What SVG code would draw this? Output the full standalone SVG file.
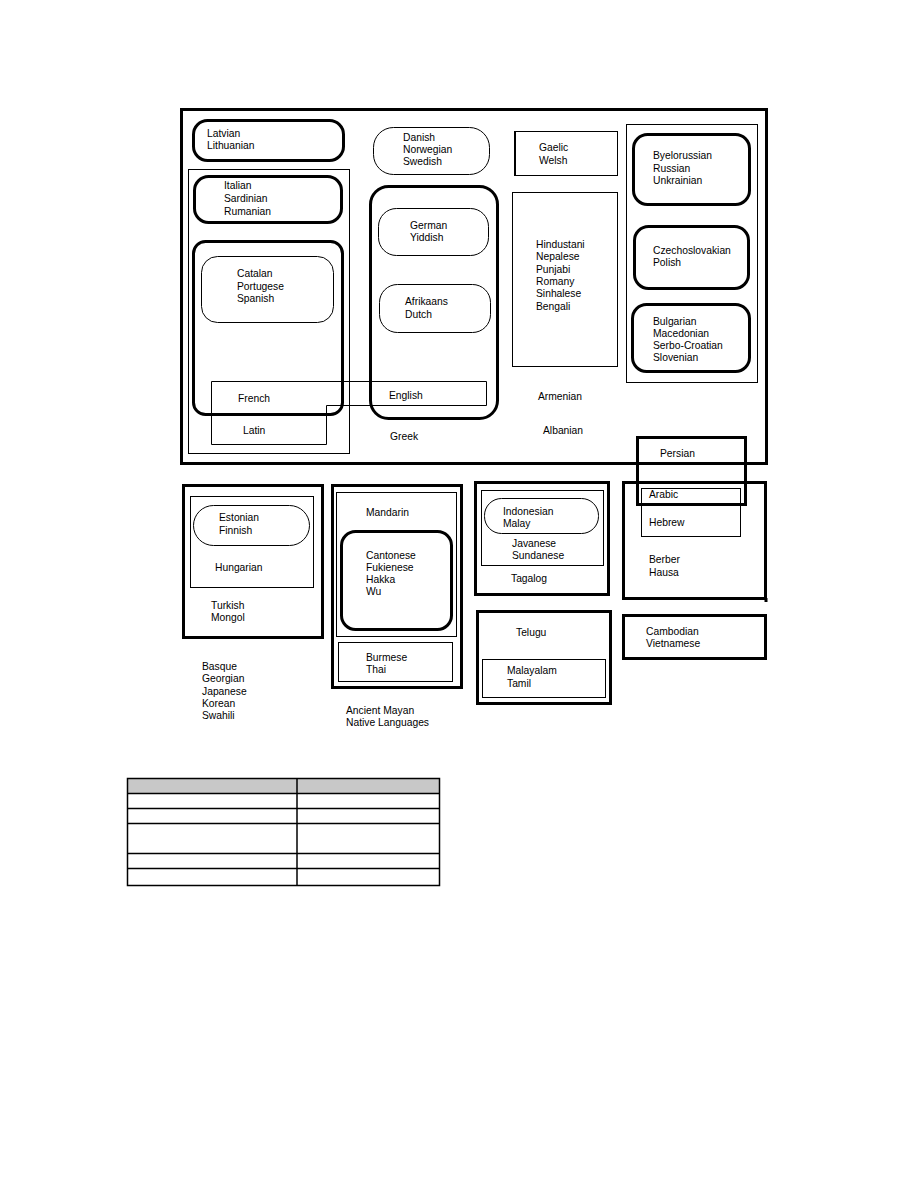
<svg xmlns="http://www.w3.org/2000/svg" width="918" height="1188" viewBox="0 0 918 1188">
<style>
.k{fill:none;stroke:#000;stroke-width:3}
.t{fill:none;stroke:#000;stroke-width:1}
text{font-family:"Liberation Sans",Arial,sans-serif;font-size:10.3px;fill:#000}
.hd{fill:#c8c8c8;stroke:none}
.tl{stroke:#000;stroke-width:1.5;fill:none}
</style>
<rect width="918" height="1188" fill="#fff"/>

<g id="indo-european">
<rect class="k" x="181.5" y="109.5" width="585" height="354"/>
</g>

<g id="baltic">
<rect class="k" x="193.5" y="120.5" width="150" height="40" rx="14"/>
<text x="207" y="137">Latvian</text><text x="207" y="149">Lithuanian</text>
</g>

<g id="romance">
<rect class="t" x="188.5" y="169.5" width="161" height="284"/>
</g>

<g id="italian">
<rect class="k" x="194.5" y="176.5" width="147" height="46" rx="14"/>
<text x="224" y="189">Italian</text><text x="224" y="202">Sardinian</text><text x="224" y="215">Rumanian</text>
</g>

<g id="ibero-french">
<rect class="k" x="193.5" y="241.5" width="149" height="173" rx="12"/>
</g>

<g id="iberian">
<rect class="t" x="201.5" y="256.5" width="132" height="66" rx="16"/>
<text x="237" y="277">Catalan</text><text x="237" y="290">Portugese</text><text x="237" y="302">Spanish</text>
</g>

<g id="danish">
<rect class="t" x="373.5" y="127.5" width="116" height="47" rx="20"/>
<text x="403" y="141">Danish</text><text x="403" y="153">Norwegian</text><text x="403" y="165">Swedish</text>
</g>

<g id="celtic">
<rect class="t" x="514.5" y="131.5" width="103" height="44"/>
<line x1="515" y1="131" x2="515" y2="176" stroke="#000" stroke-width="2"/>
<text x="539" y="151">Gaelic</text><text x="539" y="164">Welsh</text>
</g>

<g id="west-germanic">
<rect class="k" x="370.5" y="186.5" width="127" height="232" rx="18"/>
</g>

<g id="german">
<rect class="t" x="378.5" y="208.5" width="110" height="47" rx="18"/>
<text x="410" y="229">German</text><text x="410" y="241">Yiddish</text>
</g>

<g id="dutch">
<rect class="t" x="379.5" y="284.5" width="111" height="48" rx="18"/>
<text x="405" y="305">Afrikaans</text><text x="405" y="318">Dutch</text>
</g>

<g id="indic">
<rect class="t" x="512.5" y="192.5" width="105" height="174"/>
<text x="536" y="248">Hindustani</text><text x="536" y="260">Nepalese</text><text x="536" y="273">Punjabi</text><text x="536" y="285">Romany</text><text x="536" y="297">Sinhalese</text><text x="536" y="310">Bengali</text>
</g>

<g id="french-english-latin">
<path class="t" d="M211.5 381.5 H486.5 V405.5 H326.5 V444.5 H211.5 Z"/>
<text x="238" y="402">French</text>
<text x="389" y="399">English</text>
<text x="243" y="434">Latin</text>
</g>

<g id="greek"><text x="390" y="440">Greek</text></g>
<g id="armenian"><text x="538" y="400">Armenian</text></g>
<g id="albanian"><text x="543" y="434">Albanian</text></g>

<g id="slavic">
<rect class="t" x="626.5" y="124.5" width="131" height="258"/>
</g>
<g id="east-slavic">
<rect class="k" x="633.5" y="134.5" width="116" height="70" rx="14"/>
<text x="653" y="159">Byelorussian</text><text x="653" y="172">Russian</text><text x="653" y="184">Unkrainian</text>
</g>
<g id="west-slavic">
<rect class="k" x="634.5" y="226.5" width="114" height="62" rx="14"/>
<text x="653" y="254">Czechoslovakian</text><text x="653" y="266">Polish</text>
</g>
<g id="south-slavic">
<rect class="k" x="632.5" y="304.5" width="117" height="67" rx="14"/>
<text x="653" y="325">Bulgarian</text><text x="653" y="337">Macedonian</text><text x="653" y="349">Serbo-Croatian</text><text x="653" y="361">Slovenian</text>
</g>

<g id="persian">
<rect class="k" x="637.5" y="437.5" width="108" height="67"/>
<text x="660" y="457">Persian</text>
</g>

<g id="afro-asiatic">
<rect class="k" x="623.5" y="482.5" width="142" height="116"/>
<line x1="766" y1="598" x2="766" y2="602" stroke="#000" stroke-width="3"/>
<text x="649" y="563">Berber</text><text x="649" y="576">Hausa</text>
</g>
<g id="semitic">
<rect class="t" x="641.5" y="488.5" width="99" height="48"/>
<text x="649" y="498">Arabic</text><text x="649" y="526">Hebrew</text>
</g>

<g id="austro-asiatic">
<rect class="k" x="623.5" y="615.5" width="142" height="43"/>
<text x="646" y="635">Cambodian</text><text x="646" y="647">Vietnamese</text>
</g>

<g id="altaic">
<rect class="k" x="183.5" y="485.5" width="139" height="152"/>
<text x="211" y="609">Turkish</text><text x="211" y="621">Mongol</text>
</g>
<g id="uralic">
<rect class="t" x="190.5" y="496.5" width="123" height="91"/>
<text x="215" y="571">Hungarian</text>
</g>
<g id="finnic">
<rect class="t" x="193.5" y="505.5" width="116" height="40" rx="20"/>
<text x="219" y="521">Estonian</text><text x="219" y="534">Finnish</text>
</g>

<g id="isolates">
<text x="202" y="670">Basque</text><text x="202" y="682">Georgian</text><text x="202" y="695">Japanese</text><text x="202" y="707">Korean</text><text x="202" y="719">Swahili</text>
</g>

<g id="sino-tibetan">
<rect class="k" x="332.5" y="485.5" width="129" height="202"/>
</g>
<g id="chinese">
<rect class="t" x="336.5" y="492.5" width="120" height="144"/>
<text x="366" y="516">Mandarin</text>
</g>
<g id="southern-chinese">
<rect class="k" x="341.5" y="531.5" width="110" height="98" rx="14"/>
<text x="366" y="559">Cantonese</text><text x="366" y="571">Fukienese</text><text x="366" y="583">Hakka</text><text x="366" y="595">Wu</text>
</g>
<g id="burmese-thai">
<rect class="t" x="338.5" y="642.5" width="114" height="39"/>
<text x="366" y="661">Burmese</text><text x="366" y="673">Thai</text>
</g>

<g id="native">
<text x="346" y="714">Ancient Mayan</text><text x="346" y="726">Native Languages</text>
</g>

<g id="austronesian">
<rect class="k" x="475.5" y="482.5" width="133" height="112"/>
<text x="511" y="582">Tagalog</text>
</g>
<g id="malayo">
<rect class="t" x="481.5" y="490.5" width="122" height="75"/>
<text x="512" y="547">Javanese</text><text x="512" y="559">Sundanese</text>
</g>
<g id="indonesian">
<rect class="t" x="484.5" y="498.5" width="114" height="35" rx="17"/>
<text x="503" y="515">Indonesian</text><text x="503" y="527">Malay</text>
</g>

<g id="dravidian">
<rect class="k" x="477.5" y="611.5" width="133" height="92"/>
<text x="516" y="636">Telugu</text>
</g>
<g id="south-dravidian">
<rect class="t" x="482.5" y="659.5" width="123" height="38"/>
<text x="507" y="674">Malayalam</text><text x="507" y="687">Tamil</text>
</g>

<g id="table">
<rect class="hd" x="127" y="778" width="313" height="15"/>
<rect class="tl" x="127.5" y="778.5" width="312" height="107"/>
<line class="tl" x1="297" y1="778" x2="297" y2="886"/>
<line class="tl" x1="127" y1="793.5" x2="440" y2="793.5"/>
<line class="tl" x1="127" y1="808.5" x2="440" y2="808.5"/>
<line class="tl" x1="127" y1="823.5" x2="440" y2="823.5"/>
<line class="tl" x1="127" y1="853.5" x2="440" y2="853.5"/>
<line class="tl" x1="127" y1="868.5" x2="440" y2="868.5"/>
</g>
</svg>
